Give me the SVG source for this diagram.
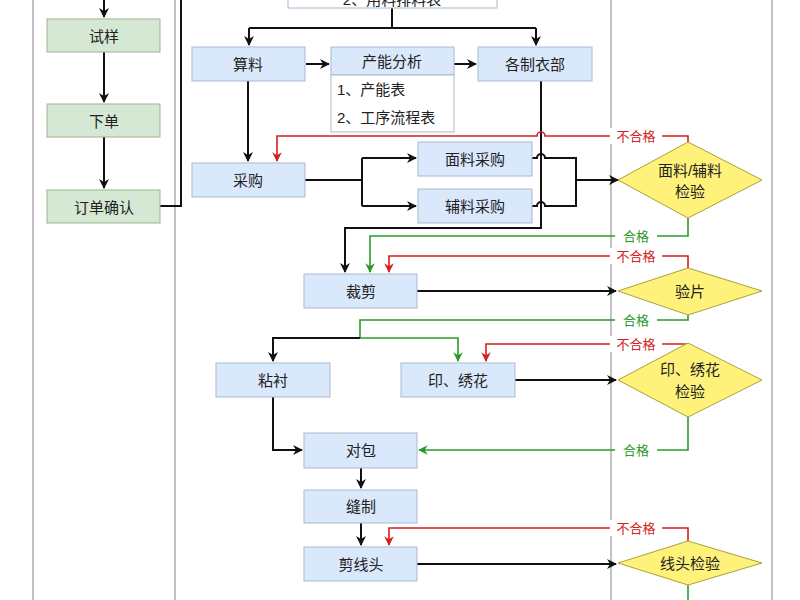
<svg xmlns="http://www.w3.org/2000/svg" width="800" height="600" viewBox="0 0 800 600">
<style>
text{font-family:"Liberation Sans","Noto Sans CJK SC",sans-serif;font-size:15px;fill:#222;text-anchor:middle;dominant-baseline:central}
.lane{stroke:#999;stroke-width:1.2;fill:none}
.g rect{fill:#d5e8d4;stroke:#9ab58f}
.b rect{fill:#dae8fc;stroke:#a9b9d0}
.d polygon{fill:#fff27a;stroke:#a8a23a}
.k{stroke:#111;stroke-width:2;fill:none}
.r{stroke:#d42020;stroke-width:1.6;fill:none}
.gr{stroke:#2a9a2a;stroke-width:1.6;fill:none}
.rl{fill:#d42020;font-size:13px}
.gl{fill:#2a9a2a;font-size:13px}
</style>
<defs>
<marker id="ak" viewBox="0 0 10 10" refX="9" refY="5" markerWidth="5" markerHeight="5" orient="auto"><path d="M0,0L10,5L0,10L3,5z" fill="#111"/></marker>
<marker id="ar" viewBox="0 0 10 10" refX="9" refY="5" markerWidth="6" markerHeight="6" orient="auto"><path d="M0,0L10,5L0,10L3,5z" fill="#d42020"/></marker>
<marker id="ag" viewBox="0 0 10 10" refX="9" refY="5" markerWidth="6" markerHeight="6" orient="auto"><path d="M0,0L10,5L0,10L3,5z" fill="#2a9a2a"/></marker>
</defs>
<rect width="800" height="600" fill="#fff"/>
<g id="lanes">
<line class="lane" x1="33" y1="0" x2="33" y2="600"/>
<line class="lane" x1="175" y1="0" x2="175" y2="600"/>
<line class="lane" x1="611" y1="0" x2="611" y2="600"/>
<line class="lane" x1="772" y1="0" x2="772" y2="600"/>
</g>
<g id="connectors">
<path class="k" d="M104,0V17" marker-end="url(#ak)"/>
<path class="k" d="M104,52V102" marker-end="url(#ak)"/>
<path class="k" d="M104,137V188" marker-end="url(#ak)"/>
<path class="k" d="M160,206H181V0"/>
<path class="k" d="M392,8V28"/>
<path class="k" d="M249,28H536"/>
<path class="k" d="M249,28V45" marker-end="url(#ak)"/>
<path class="k" d="M536,28V45" marker-end="url(#ak)"/>
<path class="k" d="M306,64H329" marker-end="url(#ak)"/>
<path class="k" d="M454,64H476" marker-end="url(#ak)"/>
<path class="k" d="M248,81V161" marker-end="url(#ak)"/>
<path class="k" d="M305,180H362M362,158V206" />
<path class="k" d="M362,158H416" marker-end="url(#ak)"/>
<path class="k" d="M362,206H416" marker-end="url(#ak)"/>
<path class="k" d="M532,158H537A4,4 0 0 1 545,158H576V206H545A4,4 0 0 0 537,206H532"/>
<path class="k" d="M576,180H618" marker-end="url(#ak)"/>
<path class="k" d="M541,81V228H345V272" marker-end="url(#ak)"/>
<path class="r" d="M688,142V136H545A4,4 0 0 0 537,136H277V161" marker-end="url(#ar)"/>
<path class="gr" d="M688,218V236H370V272" marker-end="url(#ag)"/>
<path class="k" d="M417,291H616" marker-end="url(#ak)"/>
<path class="r" d="M688,268V256H389V272" marker-end="url(#ar)"/>
<path class="gr" d="M688,315V320H360V338H458V361" marker-end="url(#ag)"/>
<path class="k" d="M360,338H273V361" marker-end="url(#ak)"/>
<path class="r" d="M688,343V344H486V361" marker-end="url(#ar)"/>
<path class="k" d="M515,380H616" marker-end="url(#ak)"/>
<path class="gr" d="M688,417V450H419" marker-end="url(#ag)"/>
<path class="k" d="M273,397V450H302" marker-end="url(#ak)"/>
<path class="k" d="M361,468V488" marker-end="url(#ak)"/>
<path class="k" d="M361,523V545" marker-end="url(#ak)"/>
<path class="r" d="M688,541V528H389V545" marker-end="url(#ar)"/>
<path class="k" d="M417,564H616" marker-end="url(#ak)"/>
<path class="gr" d="M688,585V600"/>
<rect x="610" y="128" width="52" height="16" fill="#fff"/>
<text class="rl" x="636" y="136">不合格</text>
<rect x="615" y="228" width="42" height="16" fill="#fff"/>
<text class="gl" x="636" y="236">合格</text>
<rect x="610" y="248" width="52" height="16" fill="#fff"/>
<text class="rl" x="636" y="256">不合格</text>
<rect x="615" y="312" width="42" height="16" fill="#fff"/>
<text class="gl" x="636" y="320">合格</text>
<rect x="610" y="336" width="52" height="16" fill="#fff"/>
<text class="rl" x="636" y="344">不合格</text>
<rect x="615" y="442" width="42" height="16" fill="#fff"/>
<text class="gl" x="636" y="450">合格</text>
<rect x="610" y="520" width="52" height="16" fill="#fff"/>
<text class="rl" x="636" y="528">不合格</text>
</g>
<g id="n-shiyang" class="g"><rect x="47" y="19" width="113" height="33"/><text x="104" y="36">试样</text></g>
<g id="n-xiadan" class="g"><rect x="47" y="104" width="113" height="33"/><text x="104" y="121">下单</text></g>
<g id="n-queren" class="g"><rect x="47" y="190" width="113" height="33"/><text x="104" y="207">订单确认</text></g>
<g id="n-top" class="b"><rect x="288" y="-20" width="209" height="28" fill="#fff" style="fill:#fff"/><text x="392" y="-1">2、用料排料表</text></g>
<g id="n-suanliao" class="b"><rect x="192" y="47" width="113" height="34"/><text x="248" y="64">算料</text></g>
<g id="n-channeng" class="b"><rect x="331" y="47" width="123" height="28"/><text x="392" y="61">产能分析</text><rect x="331" y="75" width="123" height="57" style="fill:#fff"/><text x="337" y="89" style="text-anchor:start">1、产能表</text><text x="337" y="117" style="text-anchor:start">2、工序流程表</text></g>
<g id="n-bumen" class="b"><rect x="478" y="47" width="114" height="34"/><text x="535" y="64">各制衣部</text></g>
<g id="n-caigou" class="b"><rect x="192" y="163" width="113" height="34"/><text x="248" y="180">采购</text></g>
<g id="n-mianliao" class="b"><rect x="418" y="142" width="114" height="34"/><text x="475" y="159">面料采购</text></g>
<g id="n-fuliao" class="b"><rect x="418" y="189" width="114" height="34"/><text x="475" y="206">辅料采购</text></g>
<g id="n-caijian" class="b"><rect x="304" y="274" width="113" height="34"/><text x="361" y="291">裁剪</text></g>
<g id="n-zhanchen" class="b"><rect x="216" y="363" width="114" height="34"/><text x="273" y="380">粘衬</text></g>
<g id="n-yinxiu" class="b"><rect x="401" y="363" width="114" height="34"/><text x="458" y="380">印、绣花</text></g>
<g id="n-duibao" class="b"><rect x="304" y="433" width="113" height="35"/><text x="361" y="450">对包</text></g>
<g id="n-fengzhi" class="b"><rect x="304" y="490" width="113" height="33"/><text x="361" y="506">缝制</text></g>
<g id="n-jianxian" class="b"><rect x="304" y="547" width="113" height="34"/><text x="361" y="564">剪线头</text></g>
<g id="d1" class="d"><polygon points="688,142 762,180 688,218 618,180"/><text x="690" y="170">面料/辅料</text><text x="690" y="191">检验</text></g>
<g id="d2" class="d"><polygon points="688,268 762,291 688,315 618,291"/><text x="690" y="291">验片</text></g>
<g id="d3" class="d"><polygon points="688,343 762,380 688,417 618,380"/><text x="690" y="369">印、绣花</text><text x="690" y="391">检验</text></g>
<g id="d4" class="d"><polygon points="688,541 762,563 688,585 618,563"/><text x="690" y="563">线头检验</text></g>
</svg>
